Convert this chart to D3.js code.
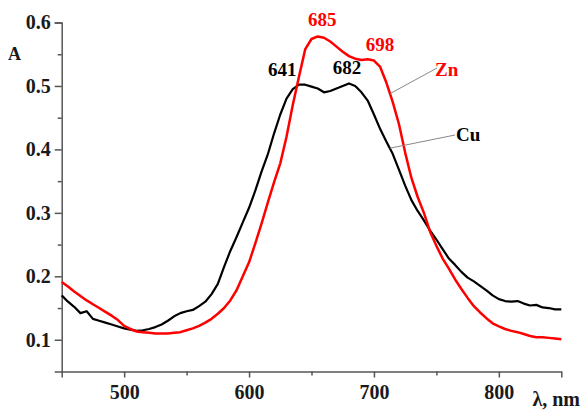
<!DOCTYPE html>
<html><head><meta charset="utf-8">
<script src="https://cdn.jsdelivr.net/npm/d3@7"></script>
<style>
body{margin:0;background:#fff;}
svg{display:block;}
text{font-family:"Liberation Serif","Times New Roman",serif;font-weight:bold;}
</style></head>
<body><svg id="c" width="582" height="412"></svg>
<script>
const wavelengths = d3.range(450, 851, 5);
const cuValues = [0.170,0.160,0.152,0.142,0.145,0.133,0.130,0.127,0.124,0.121,
0.118,0.116,0.114,0.115,0.117,0.120,0.124,0.130,0.137,0.142,
0.145,0.147,0.153,0.160,0.172,0.188,0.215,0.240,0.262,0.285,
0.308,0.335,0.365,0.392,0.425,0.455,0.480,0.495,0.502,0.502,
0.499,0.496,0.490,0.492,0.496,0.500,0.504,0.500,0.490,0.477,
0.455,0.432,0.412,0.393,0.368,0.343,0.320,0.303,0.288,0.272,
0.258,0.243,0.228,0.218,0.207,0.198,0.192,0.185,0.178,0.170,
0.164,0.161,0.160,0.161,0.157,0.154,0.155,0.151,0.150,0.148,0.148];
const znValues = [0.191,0.184,0.176,0.169,0.162,0.156,0.150,0.144,0.138,0.131,
0.122,0.117,0.113,0.112,0.111,0.110,0.110,0.110,0.111,0.112,
0.115,0.118,0.122,0.127,0.133,0.141,0.150,0.162,0.178,0.200,
0.222,0.252,0.283,0.316,0.348,0.378,0.420,0.470,0.515,0.558,
0.574,0.578,0.576,0.570,0.562,0.554,0.547,0.543,0.541,0.542,
0.540,0.530,0.505,0.475,0.440,0.395,0.355,0.325,0.300,0.270,
0.248,0.228,0.212,0.195,0.180,0.166,0.153,0.143,0.134,0.126,
0.121,0.117,0.114,0.112,0.109,0.106,0.104,0.104,0.103,0.102,0.101];
const xTicks = [500,600,700,800];
const xMinor = [550,650,750];
const yTicks = [0.1,0.2,0.3,0.4,0.5,0.6];
const yMinor = [0.15,0.25,0.35,0.45,0.55];
const peakLabels = [
  {text:"685", wl:657, a:0.578, color:"#ff0000", dx:2, dy:-10},
  {text:"698", wl:700, a:0.540, color:"#ff0000", dx:6, dy:-10},
  {text:"641", wl:641, a:0.502, color:"#000", dx:-18, dy:-9},
  {text:"682", wl:680, a:0.504, color:"#000", dx:-2, dy:-9}
];

const svg = d3.select("#c");
const x = d3.scaleLinear().domain([450,850]).range([61.7,561.3]);
const y = d3.scaleLinear().domain([0.05,0.6]).range([371.5,22.5]);
const axisColor = "#555";

// y axis
const yAxis = d3.axisLeft(y).tickValues(yTicks).tickSize(7).tickFormat(d3.format(".1f"));
const gy = svg.append("g").attr("transform","translate(61.7,0)").call(yAxis);
gy.select(".domain").attr("stroke",axisColor).attr("stroke-width",1.5);
gy.selectAll(".tick line").attr("stroke",axisColor).attr("stroke-width",1.5);
gy.selectAll(".tick text").attr("font-size",20).attr("fill","#1a1a1a").attr("x",-11)
  .attr("font-family","Liberation Serif").attr("font-weight","bold");
const gym = svg.append("g").attr("transform","translate(61.7,0)")
  .call(d3.axisLeft(y).tickValues(yMinor).tickSize(4).tickFormat(""));
gym.select(".domain").remove();
gym.selectAll(".tick line").attr("stroke",axisColor).attr("stroke-width",1.5);

// x axis
const xAxis = d3.axisBottom(x).tickValues(xTicks).tickSize(6).tickFormat(d3.format("d"));
const gx = svg.append("g").attr("transform","translate(0,371.5)").call(xAxis);
gx.select(".domain").attr("stroke",axisColor).attr("stroke-width",1.5);
gx.selectAll(".tick line").attr("stroke",axisColor).attr("stroke-width",1.5);
gx.selectAll(".tick text").attr("font-size",20).attr("fill","#1a1a1a").attr("y",13)
  .attr("font-family","Liberation Serif").attr("font-weight","bold");
const gxm = svg.append("g").attr("transform","translate(0,371.5)")
  .call(d3.axisBottom(x).tickValues(xMinor).tickSize(4).tickFormat(""));
gxm.select(".domain").remove();
gxm.selectAll(".tick line").attr("stroke",axisColor).attr("stroke-width",1.5);

// axis titles
svg.append("text").attr("x",8).attr("y",59.5).attr("font-size",18).attr("fill","#1a1a1a").text("A");
svg.append("text").attr("x",580).attr("y",406).attr("text-anchor","end").attr("font-size",20).attr("fill","#1a1a1a").text("λ, nm");

// lines
const line = d3.line().x((d,i)=>x(wavelengths[i])).y(d=>y(d));
svg.append("path").datum(cuValues).attr("d",line).attr("fill","none")
  .attr("stroke","#000").attr("stroke-width",2.2).attr("stroke-linejoin","round");
svg.append("path").datum(znValues).attr("d",line).attr("fill","none")
  .attr("stroke","#ff0000").attr("stroke-width",2.5).attr("stroke-linejoin","round");

// peak labels
svg.selectAll("text.peak").data(peakLabels).enter().append("text").attr("class","peak")
  .attr("x",d=>x(d.wl)+d.dx).attr("y",d=>y(d.a)+d.dy).attr("text-anchor","middle")
  .attr("font-size",19).attr("fill",d=>d.color).text(d=>d.text);

// series labels with leader lines
const seriesLabels = [
  {text:"Zn", color:"#ff0000", from:[713,0.488], to:[437,68], tx:435, ty:76},
  {text:"Cu", color:"#000", from:[713,0.402], to:[455,135], tx:456, ty:141}
];
seriesLabels.forEach(s=>{
  svg.append("line").attr("x1",x(s.from[0])).attr("y1",y(s.from[1]))
    .attr("x2",s.to[0]).attr("y2",s.to[1]).attr("stroke","#888").attr("stroke-width",1);
  svg.append("text").attr("x",s.tx).attr("y",s.ty).attr("font-size",19).attr("fill",s.color).text(s.text);
});
</script></body></html>
